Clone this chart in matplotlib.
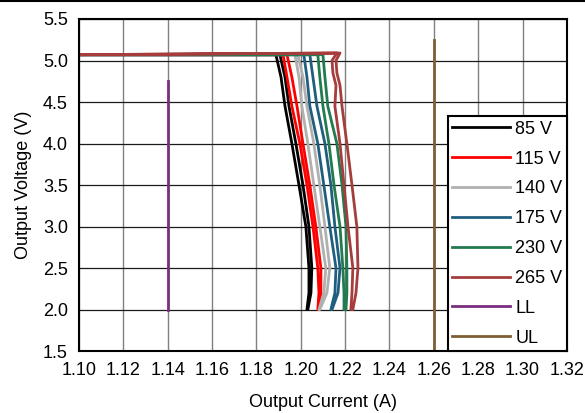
import matplotlib as mpl
mpl.use('Agg')
from matplotlib import pyplot as plt
from matplotlib.lines import Line2D

plt.rcParams['font.family'] = ['Liberation Sans', 'DejaVu Sans']

# flat output level before the knee
v_flat = 5.07
i_start = 1.10

# voltage levels along the fold-back (top -> bottom)
v_levels = [5.07, 4.8, 4.45, 4.0, 3.5, 3.0, 2.5, 2.2, 2.0]
v_levels_265 = [5.09, 5.0, 4.85, 4.7, 4.45, 4.0, 3.5, 3.0, 2.5, 2.2, 2.0]

# current on the left / right trace of each sweep
i85_l = [1.1888, 1.1911, 1.1929, 1.1960, 1.1992, 1.2023, 1.2037, 1.2037, 1.2028]
i85_r = [1.1906, 1.1929, 1.1947, 1.1978, 1.2010, 1.2037, 1.2050, 1.2046, 1.2032]
i115_l = [1.1920, 1.1938, 1.1960, 1.1996, 1.2028, 1.2055, 1.2077, 1.2082, 1.2077]
i115_r = [1.1938, 1.1960, 1.1983, 1.2010, 1.2041, 1.2068, 1.2091, 1.2091, 1.2082]
i140_l = [1.1974, 1.1992, 1.2005, 1.2032, 1.2059, 1.2086, 1.2113, 1.2104, 1.2082]
i140_r = [1.1987, 1.2010, 1.2028, 1.2059, 1.2086, 1.2109, 1.2131, 1.2118, 1.2086]
i175_l = [1.2014, 1.2028, 1.2041, 1.2077, 1.2104, 1.2131, 1.2159, 1.2154, 1.2136]
i175_r = [1.2041, 1.2055, 1.2073, 1.2109, 1.2136, 1.2154, 1.2177, 1.2168, 1.2141]
i230_l = [1.2077, 1.2086, 1.2100, 1.2127, 1.2150, 1.2177, 1.2190, 1.2195, 1.2195]
i230_r = [1.2100, 1.2109, 1.2122, 1.2163, 1.2186, 1.2204, 1.2208, 1.2208, 1.2204]
i265_l = [1.2163, 1.2141, 1.2145, 1.2159, 1.2154, 1.2177, 1.2195, 1.2213, 1.2235, 1.2231, 1.2226]
i265_r = [1.2177, 1.2159, 1.2163, 1.2177, 1.2186, 1.2208, 1.2231, 1.2253, 1.2258, 1.2249, 1.2235]

# limits
ll_i, ll_v = [1.14, 1.14], [2.0, 4.75]
ul_i, ul_v = [1.26, 1.26], [1.5, 5.25]

labels = ['85 V', '115 V', '140 V', '175 V', '230 V', '265 V', 'LL', 'UL']
colors = ['#000000', '#ff0000', '#b0b0b0', '#1f5e7e', '#227a4f', '#a63c3c', '#7a2e7e', '#7d5f33']

sweeps = [(i85_l, i85_r, v_levels), (i115_l, i115_r, v_levels),
          (i140_l, i140_r, v_levels), (i175_l, i175_r, v_levels),
          (i230_l, i230_r, v_levels), (i265_l, i265_r, v_levels_265)]

fig = plt.figure(figsize=(5.85, 4.13), dpi=100)
ax = fig.add_axes([0.135, 0.150, 0.834, 0.804])

for k, (il, ir, vv) in enumerate(sweeps):
    xs = [i_start] + il + ir[::-1] + [i_start]
    ys = [v_flat] + vv + vv[::-1] + [v_flat]
    ax.plot(xs, ys, color=colors[k], lw=2.0, label=labels[k], solid_joinstyle='round')

ax.plot(ll_i, ll_v, color=colors[6], lw=2.0, label=labels[6])
ax.plot(ul_i, ul_v, color=colors[7], lw=2.0, label=labels[7])

ax.set_xlim(1.10, 1.32)
ax.set_ylim(1.5, 5.5)
ax.set_xticks([1.10 + 0.02 * n for n in range(12)])
ax.set_yticks([1.5 + 0.5 * n for n in range(9)])
ax.xaxis.set_major_formatter(mpl.ticker.FormatStrFormatter('%.2f'))
ax.yaxis.set_major_formatter(mpl.ticker.FormatStrFormatter('%.1f'))
ax.tick_params(length=0, labelsize=13, pad=8)
ax.xaxis.grid(True, color='#808080', lw=1.0)
ax.yaxis.grid(True, color='#1a1a1a', lw=0.9)
ax.set_axisbelow(True)
for s in ax.spines.values():
    s.set_linewidth(1.5)
    s.set_color('black')

ax.set_xlabel('Output Current (A)', fontsize=13, labelpad=11)
ax.set_ylabel('Output Voltage (V)', fontsize=13, labelpad=8)

leg = ax.legend(loc='lower right', fontsize=13, frameon=True, fancybox=False,
                edgecolor='black', framealpha=1, borderaxespad=0,
                handlelength=3.2, handletextpad=0.3, labelspacing=0.71,
                borderpad=0.25)
leg.get_frame().set_linewidth(1.5)
for h in leg.get_lines():
    h.set_linewidth(2.0)

fig.add_artist(Line2D([0, 1], [0.998, 0.998], color='black', lw=1.5))

plt.savefig('out.png')
